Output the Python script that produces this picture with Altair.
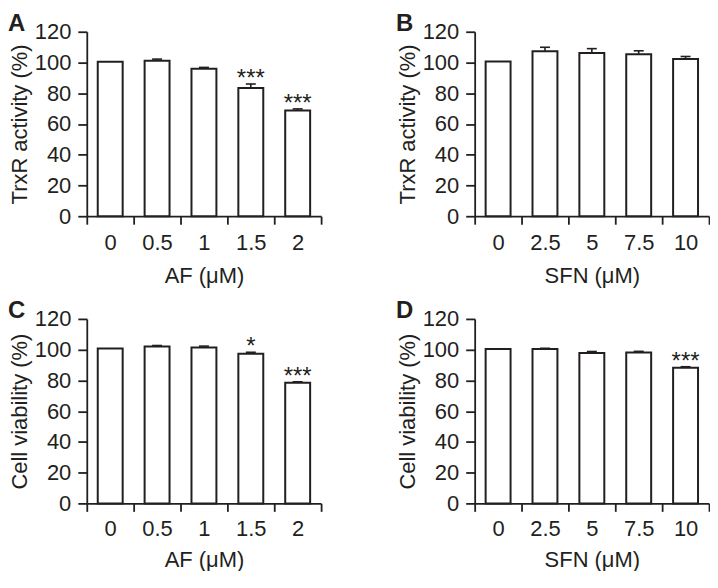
import altair as alt
import pandas as pd

INK = "#231f20"
FONT = "Liberation Sans"

# ---- data -----------------------------------------------------------
af_doses = ["0", "0.5", "1", "1.5", "2"]
sfn_doses = ["0", "2.5", "5", "7.5", "10"]

trxr_af_mean = [100.4, 101.1, 95.9, 83.4, 68.8]
trxr_af_err = [0.0, 1.1, 0.9, 2.6, 1.0]
trxr_af_sig = ["", "", "", "***", "***"]

trxr_sfn_mean = [100.6, 107.3, 106.2, 105.4, 102.2]
trxr_sfn_err = [0.0, 2.6, 2.8, 2.2, 1.7]
trxr_sfn_sig = ["", "", "", "", ""]

via_af_mean = [100.8, 102.0, 101.4, 97.4, 78.5]
via_af_err = [0.0, 0.7, 0.9, 0.9, 0.6]
via_af_sig = ["", "", "", "*", "***"]

via_sfn_mean = [100.4, 100.4, 97.8, 98.1, 88.3]
via_sfn_err = [0.0, 0.5, 1.0, 0.8, 0.6]
via_sfn_sig = ["", "", "", "", "***"]

y_ticks = [0, 20, 40, 60, 80, 100, 120]

PW, PH = 235, 185


def panel(letter, doses, mean, err, sig, xtitle, ytitle, lab_pad, title_pad):
    df = pd.DataFrame({"dose": doses, "mean": mean, "err": err, "sig": sig})
    df["top"] = df["mean"] + df["err"]
    base = alt.Chart(df)
    xaxis = alt.Axis(title=xtitle, tickBand="extent", labelAngle=0,
                     labelPadding=lab_pad, titlePadding=title_pad)
    yaxis = alt.Axis(title=ytitle, values=y_ticks, grid=False,
                     labelOverlap=False, labelFlush=False)
    yscale = alt.Scale(domain=[0, 120], nice=False)

    def X():
        return alt.X("dose:N", sort=doses,
                     scale=alt.Scale(paddingInner=0, paddingOuter=0), axis=xaxis)

    def Y(field):
        return alt.Y(field, type="quantitative", scale=yscale, axis=yaxis)

    bars = base.mark_bar(width=25, fill="white", stroke=INK, strokeWidth=2).encode(
        x=X(), y=Y("mean"))
    eb = base.transform_filter("datum.err > 0")
    rule = eb.mark_rule(color=INK, strokeWidth=1.6).encode(
        x=X(), y=Y("mean"), y2="top")
    cap = eb.mark_tick(color=INK, size=10, thickness=1.6, orient="horizontal",
                       opacity=1).encode(x=X(), y=Y("top"))
    stars = base.mark_text(
        baseline="alphabetic", fontSize=24, dy=2, color=INK, font=FONT
    ).encode(x=X(), y=Y("top"), text="sig:N")
    lab = alt.Chart(alt.Data(values=[{"t": letter}])).mark_text(
        align="left", baseline="top", fontSize=24, fontWeight="bold", color=INK, font=FONT
    ).encode(x=alt.value(-79), y=alt.value(-20), text="t:N")
    return alt.layer(bars, rule, cap, stars, lab).properties(width=PW, height=PH)


pA = panel("A", af_doses, trxr_af_mean, trxr_af_err, trxr_af_sig,
           "AF (μM)", "TrxR activity (%)", 8.5, 12)
pB = panel("B", sfn_doses, trxr_sfn_mean, trxr_sfn_err, trxr_sfn_sig,
           "SFN (μM)", "TrxR activity (%)", 8.5, 12)
pC = panel("C", af_doses, via_af_mean, via_af_err, via_af_sig,
           "AF (μM)", "Cell viability (%)", 7, 10)
pD = panel("D", sfn_doses, via_sfn_mean, via_sfn_err, via_sfn_sig,
           "SFN (μM)", "Cell viability (%)", 7, 10)

chart = (
    alt.vconcat(
        alt.hconcat(pA, pB, spacing=74),
        alt.hconcat(pC, pD, spacing=74),
        spacing=12,
    )
    .properties(padding={"top": 3, "left": 0, "right": 0, "bottom": 0})
    .configure_view(stroke=None)
    .configure_axis(
        labelFont=FONT,
        titleFont=FONT,
        labelFontSize=22,
        titleFontSize=22,
        titleFontWeight="normal",
        labelColor=INK,
        titleColor=INK,
        domainColor=INK,
        tickColor=INK,
        domainWidth=1.8,
        tickWidth=1.8,
    )
    .configure_axisX(tickSize=8)
    .configure_axisY(tickSize=9, labelPadding=7, titlePadding=3)
)

chart.save("out.html", embed_options={"renderer": "svg", "actions": False})
